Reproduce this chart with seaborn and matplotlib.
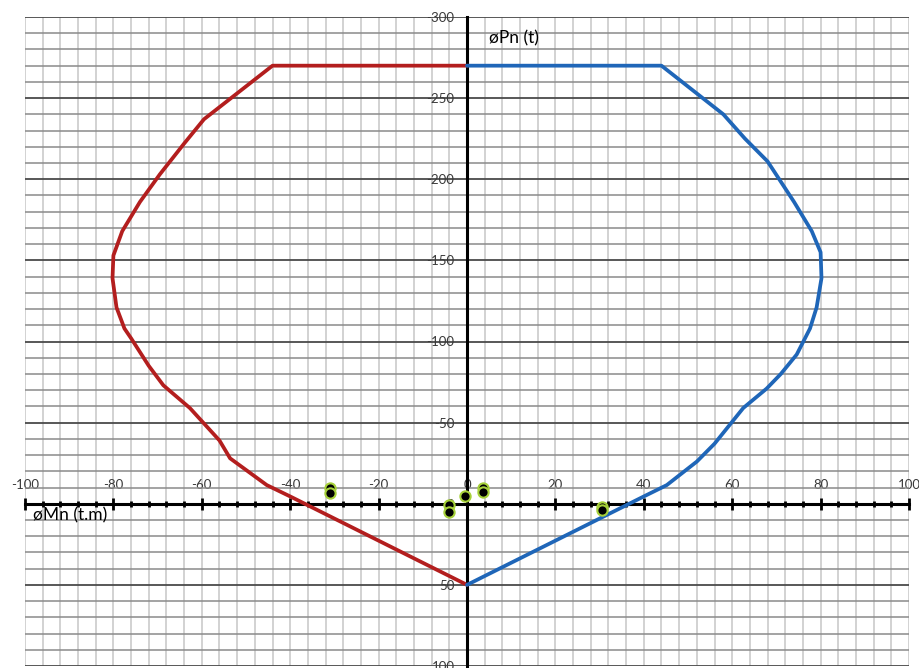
import pandas as pd
import seaborn as sns
import matplotlib.pyplot as plt
from matplotlib.ticker import MultipleLocator

# interaction diagram - left side (negative moment)
m_izq = [0, -44, -59.5, -64, -69.5, -74, -78, -80, -80.2, -79.3, -77.5, -76, -72, -68.7, -62.7, -56, -53.6, -45.3, -40, 0]
p_izq = [-270, -270, -237, -222, -203, -186, -168, -153, -139, -121, -108, -102, -85, -73, -59, -39, -28, -11.5, -4.5, 50]

# right side (positive moment)
m_der = [0, 44, 58, 62.9, 68, 74, 78, 80, 80.2, 79.1, 77.6, 74.6, 71, 67.8, 62.5, 56, 52, 45.2, 40, 0]
p_der = [-270, -270, -240, -225, -211, -186, -168, -155, -139, -121, -108, -92, -80, -71, -59, -37, -26, -11.5, -4.5, 50]

# load combinations
m_cargas = [-31, -31, -4, -4, -0.5, 3.7, 3.7, 30.5, 30.5]
p_cargas = [-9.5, -6.5, 1, 5, -4.5, -9.5, -7, 2, 4]

sns.set_style("white")
plt.rcParams["font.family"] = ["Lato", "DejaVu Sans"]
plt.rcParams["axes.unicode_minus"] = False

fig = plt.figure(figsize=(9.2, 6.68), dpi=100)
ax = fig.add_axes([25 / 920, 2 / 668, 884 / 920, 649 / 668])

izq = pd.DataFrame({"M": m_izq, "P": p_izq})
der = pd.DataFrame({"M": m_der, "P": p_der})
cargas = pd.DataFrame({"M": m_cargas, "P": p_cargas})

sns.lineplot(data=izq, x="M", y="P", sort=False, estimator=None, color="#B31E1E",
             lw=2.7, ax=ax, zorder=4)
sns.lineplot(data=der, x="M", y="P", sort=False, estimator=None, color="#1F66B8",
             lw=2.7, ax=ax, zorder=4)
sns.scatterplot(data=cargas, x="M", y="P", color="black", edgecolor="#A6D13A",
                linewidth=1.5, s=55, ax=ax, zorder=5)

ax.set_xlim(-100, 100)
ax.set_ylim(100, -300)

ax.xaxis.set_major_locator(MultipleLocator(20))
ax.xaxis.set_minor_locator(MultipleLocator(4))
ax.yaxis.set_major_locator(MultipleLocator(50))
ax.yaxis.set_minor_locator(MultipleLocator(10))

ax.grid(which="both", axis="x", color="#cfcfcf", lw=1.3)
ax.grid(which="minor", axis="y", color="#8a8a8a", lw=1.1)
ax.grid(which="major", axis="y", color="#4a4a4a", lw=1.3)
ax.set_axisbelow(True)

# axes crossing at the origin
ax.xaxis.tick_top()
ax.spines["top"].set_position(("data", 0))
ax.spines["left"].set_position(("data", 0))
ax.spines["bottom"].set_visible(False)
ax.spines["right"].set_visible(False)
for s in ["top", "left"]:
    ax.spines[s].set_color("black")
    ax.spines[s].set_linewidth(2.2)
    ax.spines[s].set_zorder(3)

ax.tick_params(which="major", direction="inout", length=8, width=2, color="black",
               labelsize=9.5, labelcolor="#3a3a3a")
ax.tick_params(which="minor", direction="inout", length=5, width=2, color="black")
ax.tick_params(axis="x", which="major", pad=5)
ax.tick_params(axis="y", which="major", pad=5)

ax.set_xlabel("")
ax.set_ylabel("")
ax.text(5.0, -287, "øPn (t)", fontsize=12.5, va="center", ha="left", color="black")
ax.text(-98.3, 7, "øMn (t.m)", fontsize=12.5, va="center", ha="left", color="black")

fig.savefig("out.png", dpi=100)
